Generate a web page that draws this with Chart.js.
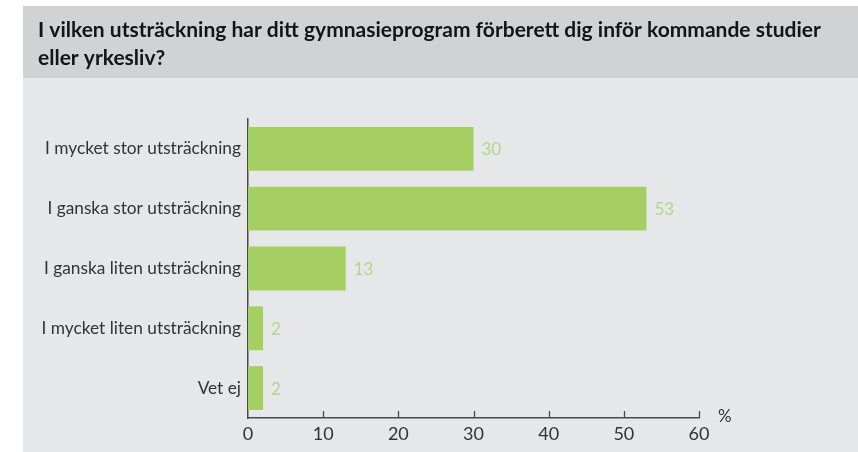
<!DOCTYPE html>
<html>
<head>
<meta charset="utf-8">
<script src="https://cdn.jsdelivr.net/npm/chart.js@4.4.1/dist/chart.umd.min.js"></script>
<style>
  html, body { margin: 0; padding: 0; background: #ffffff; }
  #wrap { width: 858px; height: 452px; position: relative; }
</style>
</head>
<body>
<div id="wrap"><canvas id="barChart"></canvas></div>
<script>
const categories = [
    'I mycket stor utsträckning',
    'I ganska stor utsträckning',
    'I ganska liten utsträckning',
    'I mycket liten utsträckning',
    'Vet ej'
];
const percentValues = [30, 53, 13, 2, 2];
const xTicks = [0, 10, 20, 30, 40, 50, 60];
const titleLines = [
    'I vilken utsträckning har ditt gymnasieprogram förberett dig inför kommande studier',
    'eller yrkesliv?'
];
const unitLabel = '%';

const barGreen = '#a5cf62';
const labelGreen = '#b3d68a';
const axisColor = '#4a4a4a';

// background panels + title
const backdrop = {
    id: 'backdrop',
    beforeDraw(chart) {
        const ctx = chart.ctx;
        ctx.save();
        ctx.fillStyle = '#ffffff';
        ctx.fillRect(0, 0, chart.width, chart.height);
        ctx.fillStyle = '#d1d2d4';
        ctx.fillRect(23, 6, chart.width - 23, 72);
        ctx.fillStyle = '#e6e7e9';
        ctx.fillRect(23, 78, chart.width - 23, chart.height - 78);
        ctx.fillStyle = '#141414';
        ctx.font = 'bold 21px Lato';
        ctx.textBaseline = 'middle';
        ctx.textAlign = 'left';
        ctx.fillText(titleLines[0], 38, 30);
        ctx.fillText(titleLines[1], 38, 58);
        ctx.restore();
    }
};

// inward ticks on x axis, value labels, unit
const extras = {
    id: 'extras',
    afterDraw(chart) {
        const ctx = chart.ctx;
        const x = chart.scales.x;
        const y = chart.scales.y;
        const bottom = chart.chartArea.bottom;
        ctx.save();
        ctx.strokeStyle = axisColor;
        ctx.lineWidth = 1.3;
        xTicks.forEach(function (t) {
            if (t === 0) return;
            const px = Math.round(x.getPixelForValue(t)) + 0.5;
            ctx.beginPath();
            ctx.moveTo(px, bottom - 7);
            ctx.lineTo(px, bottom);
            ctx.stroke();
        });

        ctx.fillStyle = labelGreen;
        ctx.font = '17px Lato';
        ctx.textBaseline = 'middle';
        ctx.textAlign = 'left';
        percentValues.forEach(function (v, i) {
            const px = x.getPixelForValue(v);
            const py = y.getPixelForValue(i);
            ctx.fillText(String(v), px + 8, py + 1);
        });

        ctx.fillStyle = '#333333';
        ctx.font = '17px Lato';
        ctx.fillText(unitLabel, chart.chartArea.right + 19, bottom - 1);
        ctx.restore();
    }
};

const bar_ctx = document.getElementById('barChart').getContext('2d');
const bar_config = {
    type: 'bar',
    data: {
        labels: categories,
        datasets: [
            {
                data: percentValues,
                backgroundColor: barGreen,
                borderWidth: 0,
                barPercentage: 0.733,
                categoryPercentage: 1.0
            }
        ]
    },
    options: {
        indexAxis: 'y',
        responsive: true,
        maintainAspectRatio: false,
        animation: false,
        layout: {
            padding: { left: 0, right: 159, top: 119, bottom: 0 }
        },
        plugins: {
            legend: { display: false },
            tooltip: { enabled: false }
        },
        scales: {
            x: {
                min: 0,
                max: 60,
                afterBuildTicks(scale) {
                    scale.ticks = xTicks.map(function (v) { return { value: v }; });
                },
                afterFit(scale) { scale.height = 34; },
                grid: { display: false, drawTicks: false },
                border: { display: true, color: axisColor, width: 1.5 },
                ticks: {
                    color: '#333333',
                    font: { family: 'Lato', size: 18 },
                    padding: 5,
                    maxRotation: 0
                }
            },
            y: {
                afterFit(scale) { scale.width = 248; },
                grid: { display: false, drawTicks: false },
                border: { display: true, color: axisColor, width: 1.5 },
                ticks: {
                    color: '#333333',
                    font: { family: 'Lato', size: 17.3 },
                    padding: 7
                }
            }
        }
    },
    plugins: [backdrop, extras]
};
const barChart = new Chart(bar_ctx, bar_config);
</script>
</body>
</html>
